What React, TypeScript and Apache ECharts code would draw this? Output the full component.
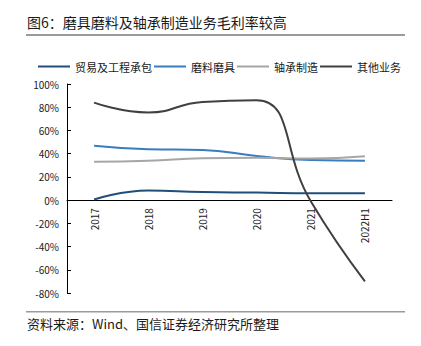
import React, { useEffect, useRef } from "react";
import * as echarts from "echarts";

const categories = ["2017", "2018", "2019", "2020", "2021", "2022H1"];
const seriesNames = ["贸易及工程承包", "磨料磨具", "轴承制造", "其他业务"];
const tradeValues = [0.5, 8.3, 6.9, 6.5, 6.0, 6.0];
const abrasiveValues = [46.8, 43.8, 43.2, 38.0, 34.6, 34.0];
const bearingValues = [33.0, 34.0, 36.0, 36.4, 35.8, 37.8];
const otherValues = [84, 75.5, 84.5, 86, -1, -70];
const colors = ["#1f4e79", "#3a7cc0", "#a6a6a6", "#404040"];
const titleText = "图6：磨具磨料及轴承制造业务毛利率较高";
const sourceText = "资料来源：Wind、国信证券经济研究所整理";

const FONT = "'Noto Sans CJK SC', 'Noto Sans', sans-serif";

const GRID_TOP = 84;
const GRID_HEIGHT = 209;
const Y_MIN = -80;
const Y_MAX = 100;

export default function App() {
  const ref = useRef<HTMLDivElement>(null);
  useEffect(() => {
    if (!ref.current) return;
    const chart = echarts.init(ref.current, null, { renderer: "svg" });
    const allValues = [tradeValues, abrasiveValues, bearingValues, otherValues];
    const zeroOffset = -((0 - Y_MIN) / (Y_MAX - Y_MIN)) * GRID_HEIGHT;
    chart.setOption({
      animation: false,
      backgroundColor: "#ffffff",
      textStyle: { fontFamily: FONT },
      color: colors,
      graphic: [
        {
          type: "text",
          left: 27,
          top: 15,
          style: { text: titleText, font: `14px ${FONT}`, fill: "#1a1a1a" },
        },
        {
          type: "rect",
          shape: { x: 26, y: 34, width: 379, height: 2 },
          style: { fill: "#9a9a9a" },
        },
        {
          type: "rect",
          shape: { x: 26, y: 311, width: 379, height: 1.5 },
          style: { fill: "#9a9a9a" },
        },
        {
          type: "text",
          left: 27,
          top: 317,
          style: { text: sourceText, font: `13px ${FONT}`, fill: "#1a1a1a" },
        },
      ],
      legend: {
        left: 33,
        top: 56,
        itemWidth: 32,
        itemHeight: 14,
        itemGap: 2,
        icon: "path://M0,6 L32,6 L32,8 L0,8 Z",
        textStyle: { fontSize: 11, color: "#1a1a1a", fontFamily: FONT },
        data: seriesNames,
      },
      grid: { left: 67, right: 29, top: GRID_TOP, height: GRID_HEIGHT, containLabel: false },
      xAxis: {
        type: "category",
        data: categories,
        boundaryGap: true,
        offset: zeroOffset,
        axisLine: { onZero: false, lineStyle: { color: "#000", width: 1 } },
        axisTick: { inside: true, length: 4, lineStyle: { color: "#000" } },
        axisLabel: { rotate: 90, margin: 8, fontSize: 10, color: "#1a1a1a", fontFamily: FONT },
      },
      yAxis: {
        type: "value",
        min: Y_MIN,
        max: Y_MAX,
        interval: 20,
        axisLine: { show: true, lineStyle: { color: "#000", width: 1 } },
        axisTick: { show: true, inside: true, length: 4, lineStyle: { color: "#000" } },
        splitLine: { show: false },
        axisLabel: { formatter: "{value}%", fontSize: 10, color: "#1a1a1a", margin: 8, fontFamily: FONT },
      },
      series: seriesNames.map((name, i) => ({
        name,
        type: "line",
        data: allValues[i],
        smooth: true,
        symbol: "none",
        lineStyle: { width: 2, color: colors[i] },
        itemStyle: { color: colors[i] },
        z: i === 3 ? 5 : 3,
      })),
    });
    return () => chart.dispose();
  }, []);
  return (
    <div
      ref={ref}
      style={{ position: "fixed", left: 0, top: 0, width: 421, height: 346, background: "#fff" }}
    />
  );
}
